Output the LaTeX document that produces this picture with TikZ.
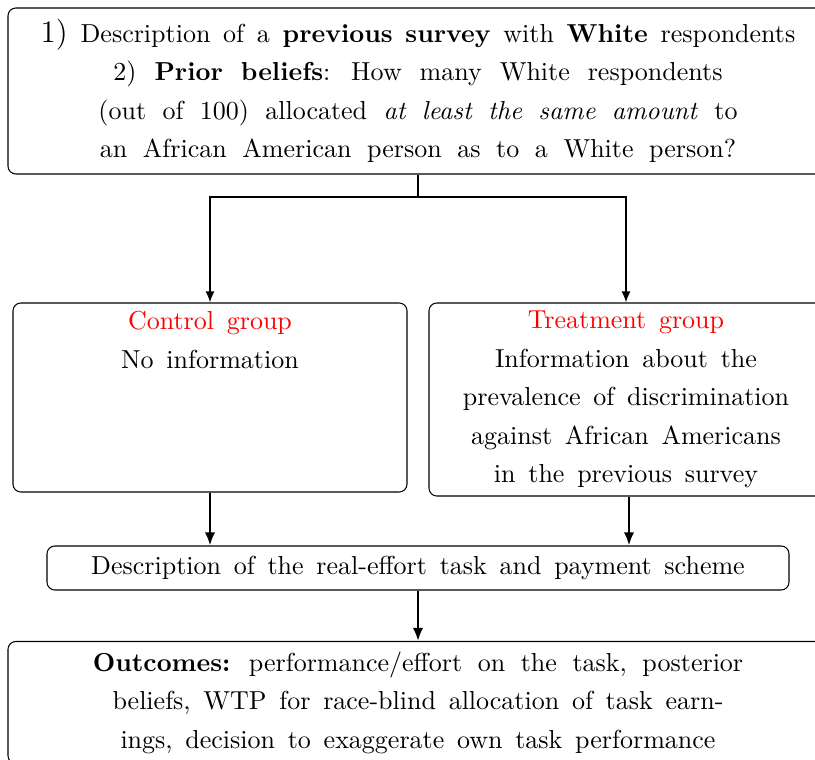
\documentclass[tikz,border=0pt]{standalone}
\usepackage{xcolor}
\usetikzlibrary{arrows.meta}
\newcommand{\px}{0.3846pt}
\newcommand{\wordgap}[1]{\spaceskip=#1 plus 1pt\relax}
\begin{document}
\begin{tikzpicture}[
    x=0.3846pt, y=-0.3846pt,
    font=\fontsize{10}{14.8}\selectfont\wordgap{4.9pt},
    box/.style={draw, rounded corners=3pt, align=center, inner sep=0pt},
    flow/.style={-{Latex[length=4.3pt, width=3.5pt]}, semithick},
    bigflow/.style={-{Latex[length=5pt, width=4pt]}, line width=1.1pt},
  ]
  \useasboundingbox (0,0) rectangle (815,760);

  % --- Encuesta previa y creencias ---
  \node[box, minimum width=820*\px, minimum height=166*\px] (survey) at (418,91)
    {{\large 1)} Description of a \textbf{previous survey} with \textbf{White} respondents\\
     \wordgap{6.9pt}2) \textbf{Prior beliefs}: How many White respondents\\
     \wordgap{6.3pt}(out of 100) allocated \emph{at least the same amount} to\\
     \wordgap{6pt}an African American person as to a White person?};

  % --- Grupos ---
  \node[box, minimum width=394*\px, minimum height=189*\px] (control) at (210,397.5)
    {\textcolor{red}{Control group}\\ No information\\ ~\\ ~\\ ~};
  \node[box, minimum width=394*\px, minimum height=193*\px] (treatment) at (626,399.5)
    {\textcolor{red}{Treatment group}\\ Information about the\\
     prevalence of discrimination\\ against African Americans\\ in the previous survey};

  % --- Tarea y resultados ---
  \node[box, minimum width=742*\px, minimum height=44*\px] (task) at (418,568)
    {Description of the real-effort task and payment scheme};
  \node[box, minimum width=820*\px, minimum height=122*\px, anchor=north] (outcomes) at (418,641)
    {\wordgap{6pt}\textbf{Outcomes:} performance/effort on the task, posterior\\
     beliefs, WTP for race-blind allocation of task earn-\\
     ings, decision to exaggerate own task performance};

  % --- Flechas ---
  \coordinate (split) at (418,197);
  \draw (survey.south) -- (split);
  \draw[flow] (split) -| (control.north);
  \draw[flow] (split) -| (treatment.north);
  \draw[bigflow] (control.south) -- (control.south |- task.north);
  \draw[bigflow] ([xshift=3*\px]treatment.south) -- ([xshift=3*\px]treatment.south |- task.north);
  \draw[bigflow] (task.south -| outcomes.north) -- (outcomes.north);
\end{tikzpicture}
\end{document}
